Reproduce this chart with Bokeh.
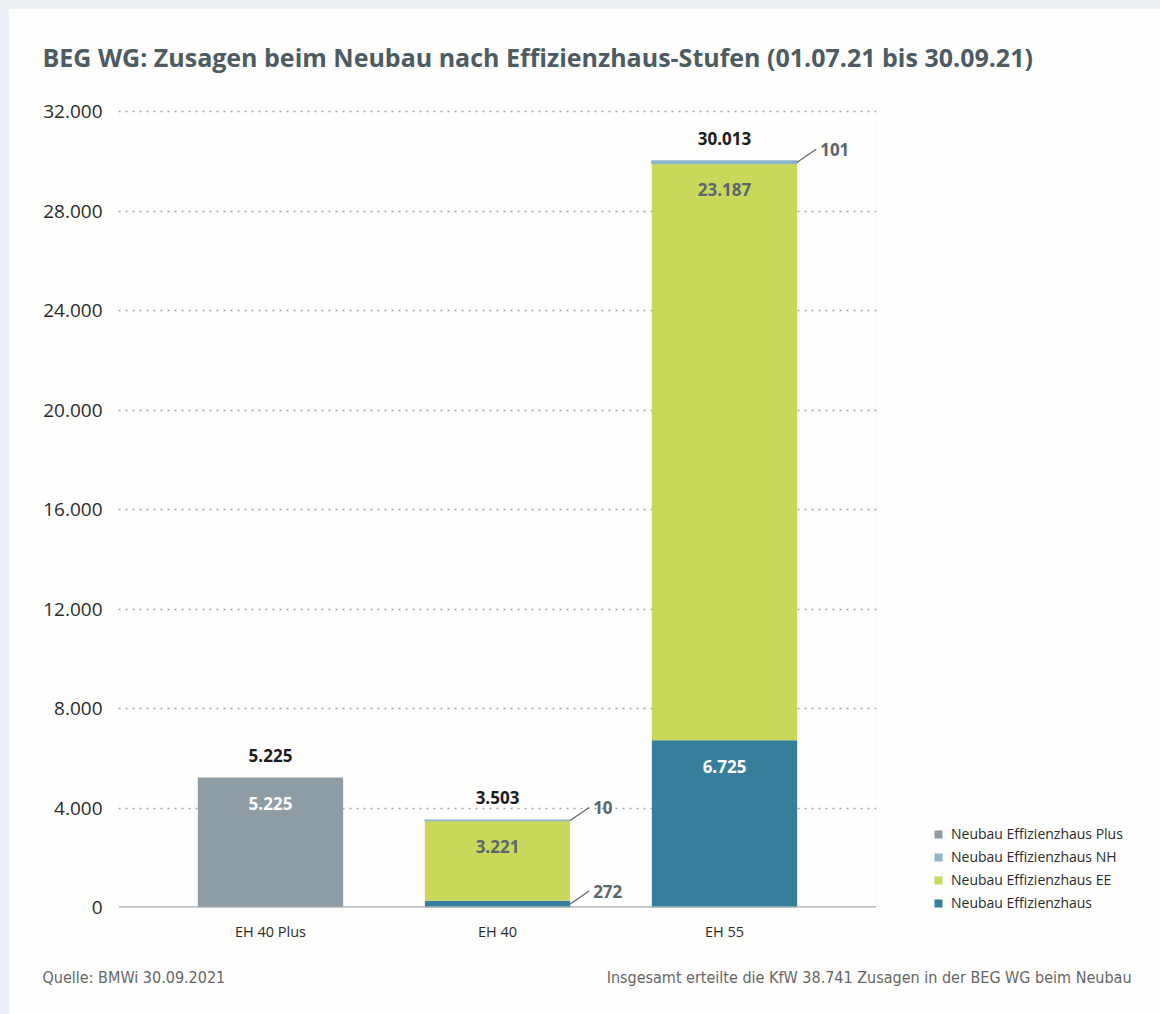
from bokeh.plotting import figure
from bokeh.models import (FactorRange, Range1d, FixedTicker, Label, Legend, LegendItem,
                          Span, ColumnDataSource)
from bokeh.core.properties import value
from bokeh.embed import file_html
from bokeh.resources import INLINE

# ---------------- data ----------------
categories = ["EH 40 Plus", "EH 40", "EH 55"]
neubau_eh = [0, 272, 6725]          # Neubau Effizienzhaus
neubau_ee = [0, 3221, 23187]        # Neubau Effizienzhaus EE
neubau_nh = [0, 10, 101]            # Neubau Effizienzhaus NH
neubau_plus = [5225, 0, 0]          # Neubau Effizienzhaus Plus
totals = [5225, 3503, 30013]

y_ticks = [0, 4000, 8000, 12000, 16000, 20000, 24000, 28000, 32000]
y_tick_labels = ["0", "4.000", "8.000", "12.000", "16.000", "20.000", "24.000", "28.000", "32.000"]

series_keys = ["eh", "ee", "nh", "plus"]
series_names = ["Neubau Effizienzhaus", "Neubau Effizienzhaus EE",
                "Neubau Effizienzhaus NH", "Neubau Effizienzhaus Plus"]
series_colors = ["#357f9d", "#c9d75b", "#8fb6c9", "#8e9da5"]
inner_text_colors = ["#ffffff", "#5b676d", "#5b676d", "#ffffff"]

title_text = "BEG WG: Zusagen beim Neubau nach Effizienzhaus-Stufen (01.07.21 bis 30.09.21)"
source_text = "Quelle: BMWi 30.09.2021"
note_text = "Insgesamt erteilte die KfW 38.741 Zusagen in der BEG WG beim Neubau"


def de(v):
    return f"{v:,}".replace(",", ".")


FONT = "Open Sans"
FOOT_FONT = "'Liberation Sans Narrow', 'DejaVu Sans Condensed', sans-serif"
BAR_W = 0.64
PX_PER_UNIT = 796 / 32000.0
Y_END = 32000 + 10 / PX_PER_UNIT

src = ColumnDataSource(dict(cat=categories, eh=neubau_eh, ee=neubau_ee, nh=neubau_nh,
                            plus=neubau_plus,
                            nh_alpha=[1 if v > 0 else 0 for v in neubau_nh]))

p = figure(x_range=FactorRange(factors=categories, range_padding=0.113,
                               range_padding_units="percent"),
           y_range=Range1d(0, Y_END),
           frame_width=758, frame_height=806,
           min_border_left=110, min_border_right=284,
           min_border_top=93, min_border_bottom=107,
           output_backend="svg", toolbar_location=None, tools="")
p.background_fill_color = "#fefefd"
p.border_fill_color = "#fefefd"
p.outline_line_color = None

renderers = p.vbar_stack(series_keys, x="cat", width=BAR_W, color=series_colors,
                         line_width=0, source=src)
nh_r = renderers[2]
nh_r.glyph.line_color = series_colors[2]
nh_r.glyph.line_width = 1.5
nh_r.glyph.line_alpha = {"field": "nh_alpha"}

# axes
p.yaxis.ticker = FixedTicker(ticks=y_ticks)
p.yaxis.major_label_overrides = {t: l for t, l in zip(y_ticks, y_tick_labels)}
p.yaxis.axis_line_color = None
p.yaxis.major_tick_line_color = None
p.yaxis.minor_tick_line_color = None
p.yaxis.major_label_standoff = 10
p.yaxis.major_label_text_font = FONT
p.yaxis.major_label_text_font_size = "19px"
p.yaxis.major_label_text_color = "#2b2b2b"

p.xaxis.axis_line_color = None
p.xaxis.major_tick_line_color = None
p.xaxis.major_label_standoff = 8
p.xaxis.major_label_text_font = FONT
p.xaxis.major_label_text_font_size = "14.5px"
p.xaxis.major_label_text_color = "#2b2b2b"

p.xgrid.grid_line_color = None
p.ygrid.ticker = FixedTicker(ticks=y_ticks[1:])
p.ygrid.grid_line_color = "#a5a5a5"
p.ygrid.grid_line_dash = "2 5"
p.ygrid.grid_line_width = 1.5

p.add_layout(Span(location=0, dimension="width", line_color="#a3abb0", line_width=2.5))

# total labels
tot_src = ColumnDataSource(dict(cat=categories, y=totals, t=[de(v) for v in totals]))
p.text(x="cat", y="y", text="t", source=tot_src, text_align="center",
       text_baseline="bottom", y_offset=-16, text_font=value(FONT),
       text_font_style="bold", text_font_size="17px", text_color="#1c1c1c")

# segment labels
series_vals = [neubau_eh, neubau_ee, neubau_nh, neubau_plus]
in_x, in_y, in_t, in_c = [], [], [], []
co_x0, co_y0, co_x1, co_y1, co_t = [], [], [], [], []
lead_dx = 19 / 227.0
lead_dy = 13 / PX_PER_UNIT
for i, cat in enumerate(categories):
    base = 0
    for s, vals in enumerate(series_vals):
        v = vals[i]
        if v > 0:
            top = base + v
            if v >= 1000:
                in_x.append(cat); in_y.append(top); in_t.append(de(v)); in_c.append(inner_text_colors[s])
            else:
                mid = base + v / 2.0
                xe = i + 0.5 + BAR_W / 2
                co_x0.append(xe); co_y0.append(mid)
                co_x1.append(xe + lead_dx); co_y1.append(mid + lead_dy)
                co_t.append(de(v))
            base = top

in_src = ColumnDataSource(dict(x=in_x, y=in_y, t=in_t, c=in_c))
p.text(x="x", y="y", text="t", text_color="c", source=in_src, text_align="center",
       text_baseline="middle", y_offset=26, text_font=value(FONT),
       text_font_style="bold", text_font_size="17px")

co_src = ColumnDataSource(dict(x0=co_x0, y0=co_y0, x1=co_x1, y1=co_y1, t=co_t))
p.segment(x0="x0", y0="y0", x1="x1", y1="y1", source=co_src, line_color="#5b676d",
          line_width=1.2)
p.text(x="x1", y="y1", text="t", source=co_src, text_align="left", text_baseline="middle",
       x_offset=4, text_font=value(FONT), text_font_style="bold", text_font_size="17px",
       text_color="#5b676d")

# legend
items = [LegendItem(label=series_names[k], renderers=[renderers[k]]) for k in [3, 2, 1, 0]]
legend = Legend(items=items, location=(57, -5), padding=0, margin=0,
                border_line_color=None, background_fill_alpha=0,
                glyph_width=10, glyph_height=10, label_height=18, spacing=4,
                label_standoff=8, label_text_font=FONT, label_text_font_size="14px",
                label_text_color="#2b2b2b")
p.add_layout(legend, "right")

# title and footer (in side panels so they are not clipped to the frame)
p.add_layout(Label(x=-76, y=45, x_units="screen", y_units="screen", text=title_text,
                   text_font=FONT, text_font_style="bold", text_font_size="25px",
                   text_color="#4d5b63", text_baseline="middle"), "above")
p.add_layout(Label(x=-76, y=-15, x_units="screen", y_units="screen", text=source_text,
                   text_font=FOOT_FONT, text_font_size="16px", text_color="#666666",
                   text_baseline="middle"), "below")
p.add_layout(Label(x=1013, y=4, x_units="screen", y_units="screen", text=note_text,
                   text_font=FOOT_FONT, text_font_size="16px", text_color="#666666",
                   text_baseline="middle", text_align="right"), "below")

html = file_html(p, INLINE)
html = html.replace("</head>",
                    "<style>html,body{margin:0 !important;}"
                    "body{padding:8px 0 0 8px !important;background:#ebeef2 !important;}</style></head>", 1)
open("out.html", "w").write(html)
